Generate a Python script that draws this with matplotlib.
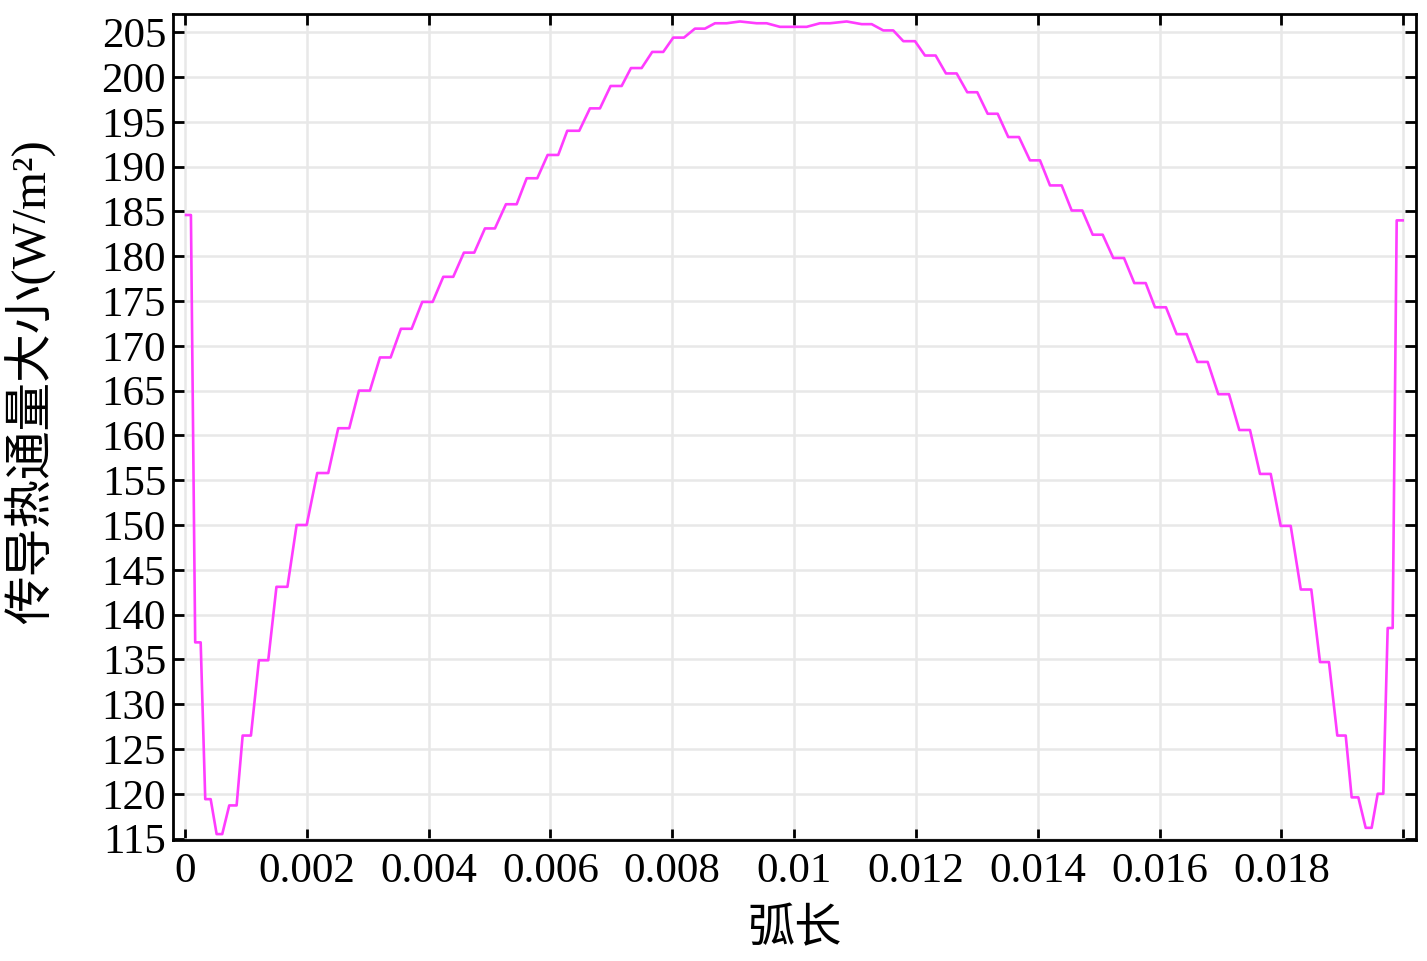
import matplotlib
matplotlib.use("Agg")
import matplotlib.pyplot as plt

# Arc length (m) at the corners of the stepped curve
arc_length = [
    0.00002, 0.00010, 0.00017, 0.00026, 0.000335, 0.000424, 0.000522, 0.000614,
    0.000729, 0.00085, 0.000949, 0.001085, 0.001216, 0.001369, 0.001504, 0.001684,
    0.001835, 0.00200, 0.002173, 0.002354, 0.002518, 0.002699, 0.002858, 0.003038,
    0.003203, 0.003378, 0.003547, 0.003723, 0.003897, 0.004068, 0.004242, 0.004406,
    0.004581, 0.004751, 0.004926, 0.00509, 0.005271, 0.005447, 0.005611, 0.005785,
    0.005955, 0.006129, 0.006277, 0.006474, 0.00665, 0.006814, 0.006989, 0.00717,
    0.007323, 0.007498, 0.007672, 0.007853, 0.008017, 0.008193, 0.008373, 0.008537,
    0.008702, 0.008894, 0.009112, 0.009386, 0.00955, 0.009768, 0.010207, 0.010425,
    0.010589, 0.010864, 0.01111, 0.011274, 0.011464, 0.011628, 0.011793, 0.011985,
    0.012149, 0.012324, 0.012493, 0.012669, 0.012843, 0.013007, 0.013178, 0.013342,
    0.013516, 0.013692, 0.013872, 0.014037, 0.014201, 0.014393, 0.014557, 0.014731,
    0.014902, 0.015066, 0.01524, 0.015416, 0.015585, 0.015772, 0.015924, 0.016105,
    0.01628, 0.016445, 0.016619, 0.016789, 0.016963, 0.017139, 0.017308, 0.017484,
    0.017648, 0.017824, 0.017988, 0.018152, 0.018318, 0.01849, 0.018633, 0.01878,
    0.018917, 0.019055, 0.019153, 0.019262, 0.019383, 0.019481, 0.01958, 0.019672,
    0.019744, 0.019826, 0.019892, 0.01999,
]

# Conductive heat flux magnitude (W/m^2)
heat_flux = [
    184.6, 184.6, 136.9, 136.9, 119.4, 119.4, 115.5, 115.5,
    118.7, 118.7, 126.5, 126.5, 134.9, 134.9, 143.1, 143.1,
    150.0, 150.0, 155.8, 155.8, 160.8, 160.8, 165.0, 165.0,
    168.7, 168.7, 171.9, 171.9, 174.9, 174.9, 177.7, 177.7,
    180.4, 180.4, 183.1, 183.1, 185.8, 185.8, 188.7, 188.7,
    191.3, 191.3, 194.0, 194.0, 196.5, 196.5, 199.0, 199.0,
    201.0, 201.0, 202.8, 202.8, 204.4, 204.4, 205.4, 205.4,
    206.0, 206.0, 206.2, 206.0, 206.0, 205.6, 205.6, 206.0,
    206.0, 206.2, 205.9, 205.9, 205.2, 205.2, 204.0, 204.0,
    202.4, 202.4, 200.4, 200.4, 198.3, 198.3, 195.9, 195.9,
    193.3, 193.3, 190.7, 190.7, 187.9, 187.9, 185.1, 185.1,
    182.4, 182.4, 179.8, 179.8, 177.0, 177.0, 174.3, 174.3,
    171.3, 171.3, 168.2, 168.2, 164.6, 164.6, 160.6, 160.6,
    155.7, 155.7, 149.9, 149.9, 142.8, 142.8, 134.7, 134.7,
    126.5, 126.5, 119.6, 119.6, 116.2, 116.2, 120.0, 120.0,
    138.5, 138.5, 184.0, 184.0,
]

x_ticks = [0, 0.002, 0.004, 0.006, 0.008, 0.01, 0.012, 0.014, 0.016, 0.018, 0.02]
x_tick_labels = ["0", "0.002", "0.004", "0.006", "0.008", "0.01", "0.012",
                 "0.014", "0.016", "0.018", ""]
y_ticks = list(range(115, 206, 5))
x_label = "弧长"
y_label = "传导热通量大小(W/m²)"

serif_list = ["Liberation Serif", "Noto Sans CJK SC", "DejaVu Sans"]
cjk_list = ["Noto Sans CJK SC", "Liberation Serif", "DejaVu Sans"]

fig = plt.figure(figsize=(14.27, 9.61), dpi=100)
ax = fig.add_axes([0.1212, 0.1259, 0.9923 - 0.1212, 0.9854 - 0.1259])

ax.plot(arc_length, heat_flux, color="#ff3cff", linewidth=1.9, solid_joinstyle="round")

ax.set_xlim(-0.000195, 0.020209)
ax.set_ylim(114.84, 207.03)
ax.set_xticks(x_ticks)
ax.set_xticklabels(x_tick_labels)
ax.set_yticks(y_ticks)
ax.set_yticklabels([str(v) for v in y_ticks])

ax.grid(True, color="#e8e8e8", linewidth=1.8)
ax.set_axisbelow(True)

ax.tick_params(direction="in", top=True, right=True, length=8, width=2,
               labelsize=31, pad=5)
ax.tick_params(axis="x", pad=9)
for lab in ax.get_xticklabels() + ax.get_yticklabels():
    lab.set_family(serif_list)

for sp in ax.spines.values():
    sp.set_linewidth(2)
    sp.set_color("black")

ax.set_xlabel(x_label, family=cjk_list, fontsize=34, labelpad=10)
ax.set_ylabel(y_label, family=serif_list, fontsize=35)
ax.yaxis.set_label_coords(-0.094, 0.555)

fig.savefig("out.png", dpi=100)
